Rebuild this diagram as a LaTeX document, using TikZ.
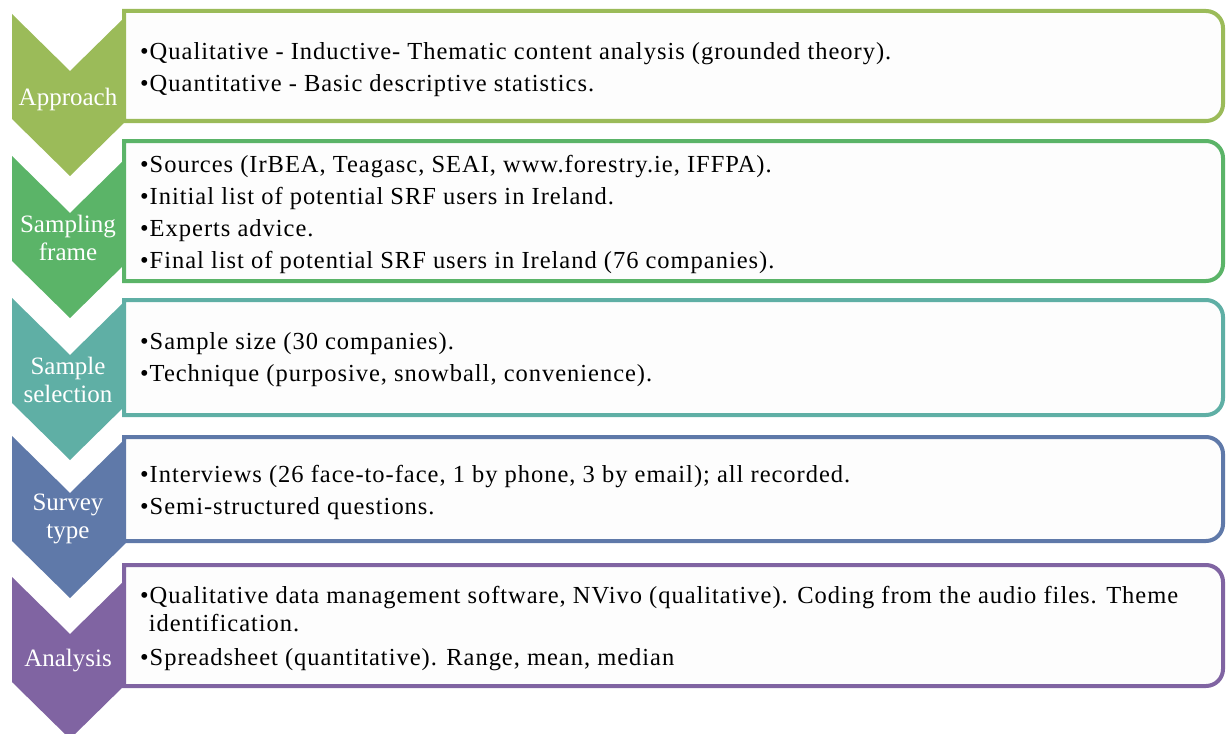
\documentclass[tikz,border=0pt]{standalone}
\usepackage{fontspec}
\setmainfont{Liberation Serif}
\newfontfamily\itemfont[LetterSpace=4]{Liberation Serif}
\usetikzlibrary{calc}

\definecolor{cApproach}{HTML}{9BBB59}
\definecolor{cFrame}{HTML}{5BB468}
\definecolor{cSelect}{HTML}{5FAFA5}
\definecolor{cSurvey}{HTML}{5F79A9}
\definecolor{cAnalysis}{HTML}{8064A2}
\definecolor{boxfill}{HTML}{FDFDFD}

\tikzset{
  chevfill/.style={fill=#1, draw=none},
  steplabel/.style={text=white, font=\fontsize{25}{28}\selectfont, align=center, inner sep=0pt},
  itemtext/.style={anchor=west, align=left, font=\itemfont\fontsize{24.5}{28}\selectfont, inner sep=0pt, text=black},
  boxframe/.style={draw=#1, line width=4pt, fill=boxfill},
}

% downward chevron: top edge y (pixels from top), colour
\newcommand\chevronshape[2]{%
  \path[chevfill=#2] (12,{-(#1)}) -- (70,{-(#1+57)}) -- (128,{-(#1)})
     -- (128,{-(#1+105)}) -- (70,{-(#1+162)}) -- (12,{-(#1+105)}) -- cycle;}

% text frame, square on the left and rounded on the right: top, bottom, colour
\newcommand\itemframe[3]{%
  \draw[boxframe=#3] (124,{-(#1+2)}) -- (1206,{-(#1+2)})
     arc[start angle=90, end angle=0, radius=17] -- (1223,{-(#2-2)+17})
     arc[start angle=0, end angle=-90, radius=17] -- (124,{-(#2-2)}) -- cycle;}

\begin{document}
\begin{tikzpicture}[x=1pt, y=1pt]
  \useasboundingbox (0,0) rectangle (1230,-733);
  \clip (0,0) rectangle (1230,-733);

  % chevrons
  \chevronshape{14}{cApproach}
  \chevronshape{156}{cFrame}
  \chevronshape{298}{cSelect}
  \chevronshape{436}{cSurvey}
  \chevronshape{577}{cAnalysis}

  % frames
  \itemframe{9}{123}{cApproach}
  \itemframe{139}{283}{cFrame}
  \itemframe{298}{417}{cSelect}
  \itemframe{435}{543}{cSurvey}
  \itemframe{563}{688}{cAnalysis}

  % step labels
  \node[steplabel] (lApproach) at (68,-99) {Approach};
  \node[steplabel] (lFrame) at (68,-238) {Sampling\\frame};
  \node[steplabel] (lSelect) at (68,-380) {Sample\\selection};
  \node[steplabel] (lSurvey) at (68,-519) {Survey\\type};
  \node[steplabel] (lAnalysis) at (68,-661) {Analysis};

  % item texts
  \node[itemtext] (tApproach) at (140,-70) {%
    •Qualitative - Inductive- Thematic content analysis (grounded theory).\\[4pt]
    •Quantitative - Basic descriptive statistics.};
  \node[itemtext] (tFrame) at (140,-214) {%
    •Sources (IrBEA, Teagasc, SEAI, www.forestry.ie, IFFPA).\\[4pt]
    •Initial list of potential SRF users in Ireland.\\[4pt]
    •Experts advice.\\[4pt]
    •Final list of potential SRF users in Ireland (76 companies).};
  \node[itemtext] (tSelect) at (140,-360) {%
    •Sample size (30 companies).\\[4pt]
    •Technique (purposive, snowball, convenience).};
  \node[itemtext] (tSurvey) at (140,-492) {%
    •Interviews (26 face-to-face, 1 by phone, 3 by email); all recorded.\\[4pt]
    •Semi-structured questions.};
  \node[itemtext] (tAnalysis) at (140,-629) {%
    •Qualitative data management software, NVivo (qualitative). Coding from the audio files. Theme\\
    \phantom{•}identification.\\[6pt]
    •Spreadsheet (quantitative). Range, mean, median};
\end{tikzpicture}
\end{document}
